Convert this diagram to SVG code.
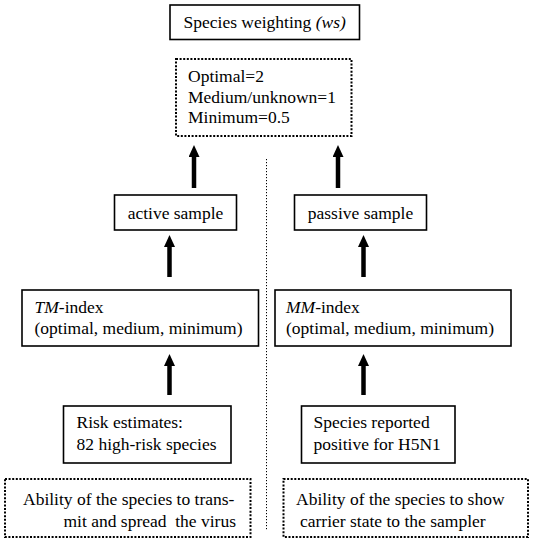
<svg xmlns="http://www.w3.org/2000/svg" width="533" height="540" viewBox="0 0 533 540">
  <defs>
    <marker id="head" markerUnits="userSpaceOnUse" markerWidth="12" markerHeight="11" refX="0" refY="5.5" orient="auto">
      <path d="M0,0 L12,5.5 L0,11 z" fill="#000"/>
    </marker>
  </defs>
  <rect width="533" height="540" fill="#fff"/>

  <g id="connectors" stroke="#000" fill="none">
    <line x1="266.5" y1="159" x2="266.5" y2="530" stroke-width="1" stroke-dasharray="1.2 1.8"/>
    <g stroke-width="4.5" marker-end="url(#head)">
      <line x1="194" y1="188" x2="194" y2="157"/>
      <line x1="338" y1="188" x2="338" y2="157"/>
      <line x1="169.5" y1="277" x2="169.5" y2="247"/>
      <line x1="363.5" y1="277" x2="363.5" y2="247"/>
      <line x1="169.5" y1="395" x2="169.5" y2="366"/>
      <line x1="363.5" y1="395" x2="363.5" y2="366"/>
    </g>
  </g>

  <g id="species-weighting">
    <rect x="170" y="5" width="189.5" height="34.5" fill="#fff" stroke="#000" stroke-width="1.6"/>
    <text x="264.7" y="28" text-anchor="middle" font-family="Times New Roman" font-size="17.5">Species weighting <tspan font-style="italic">(ws)</tspan></text>
  </g>

  <g id="weights">
    <rect x="176" y="59" width="175.5" height="77" fill="#fff" stroke="#000" stroke-width="2" stroke-dasharray="2 1.6"/>
    <text x="188" y="82" font-family="Times New Roman" font-size="17.5">Optimal=2</text>
    <text x="188" y="102.5" font-family="Times New Roman" font-size="17.5">Medium/unknown=1</text>
    <text x="188" y="123" font-family="Times New Roman" font-size="17.5">Minimum=0.5</text>
  </g>

  <g id="active-sample">
    <rect x="114.5" y="195" width="122" height="35" fill="#fff" stroke="#000" stroke-width="1.6"/>
    <text x="175.5" y="218.5" text-anchor="middle" font-family="Times New Roman" font-size="17.5">active sample</text>
  </g>

  <g id="passive-sample">
    <rect x="294.5" y="195" width="132" height="35" fill="#fff" stroke="#000" stroke-width="1.6"/>
    <text x="360.5" y="218.5" text-anchor="middle" font-family="Times New Roman" font-size="17.5">passive sample</text>
  </g>

  <g id="tm-index">
    <rect x="22" y="290" width="236.5" height="56" fill="#fff" stroke="#000" stroke-width="1.6"/>
    <text x="34.5" y="313" font-family="Times New Roman" font-size="17.5"><tspan font-style="italic">TM</tspan>-index</text>
    <text x="34.5" y="334" font-family="Times New Roman" font-size="17.5">(optimal, medium, minimum)</text>
  </g>

  <g id="mm-index">
    <rect x="275" y="290" width="236" height="56" fill="#fff" stroke="#000" stroke-width="1.6"/>
    <text x="286" y="313" font-family="Times New Roman" font-size="17.5"><tspan font-style="italic">MM</tspan>-index</text>
    <text x="286" y="334" font-family="Times New Roman" font-size="17.5">(optimal, medium, minimum)</text>
  </g>

  <g id="risk-estimates">
    <rect x="63.5" y="406" width="167.5" height="57" fill="#fff" stroke="#000" stroke-width="1.6"/>
    <text x="76.5" y="428" font-family="Times New Roman" font-size="17.5">Risk estimates:</text>
    <text x="76.5" y="450" font-family="Times New Roman" font-size="17.5">82 high-risk species</text>
  </g>

  <g id="species-reported">
    <rect x="301.5" y="406" width="153.5" height="57" fill="#fff" stroke="#000" stroke-width="1.6"/>
    <text x="313.5" y="428" font-family="Times New Roman" font-size="17.5">Species reported</text>
    <text x="313.5" y="450" font-family="Times New Roman" font-size="17.5">positive for H5N1</text>
  </g>

  <g id="transmit-ability">
    <rect x="5" y="479" width="245.5" height="58" fill="#fff" stroke="#000" stroke-width="2" stroke-dasharray="2 1.6"/>
    <text x="23" y="505" font-family="Times New Roman" font-size="17.5">Ability of the species to trans-</text>
    <text x="236" y="527" text-anchor="end" font-family="Times New Roman" font-size="17.5">mit and spread&#160; the virus</text>
  </g>

  <g id="carrier-ability">
    <rect x="283.5" y="479" width="244.5" height="58" fill="#fff" stroke="#000" stroke-width="2" stroke-dasharray="2 1.6"/>
    <text x="296" y="505" font-family="Times New Roman" font-size="17.5">Ability of the species to show</text>
    <text x="300" y="527" font-family="Times New Roman" font-size="17.5">carrier state to the sampler</text>
  </g>
</svg>
